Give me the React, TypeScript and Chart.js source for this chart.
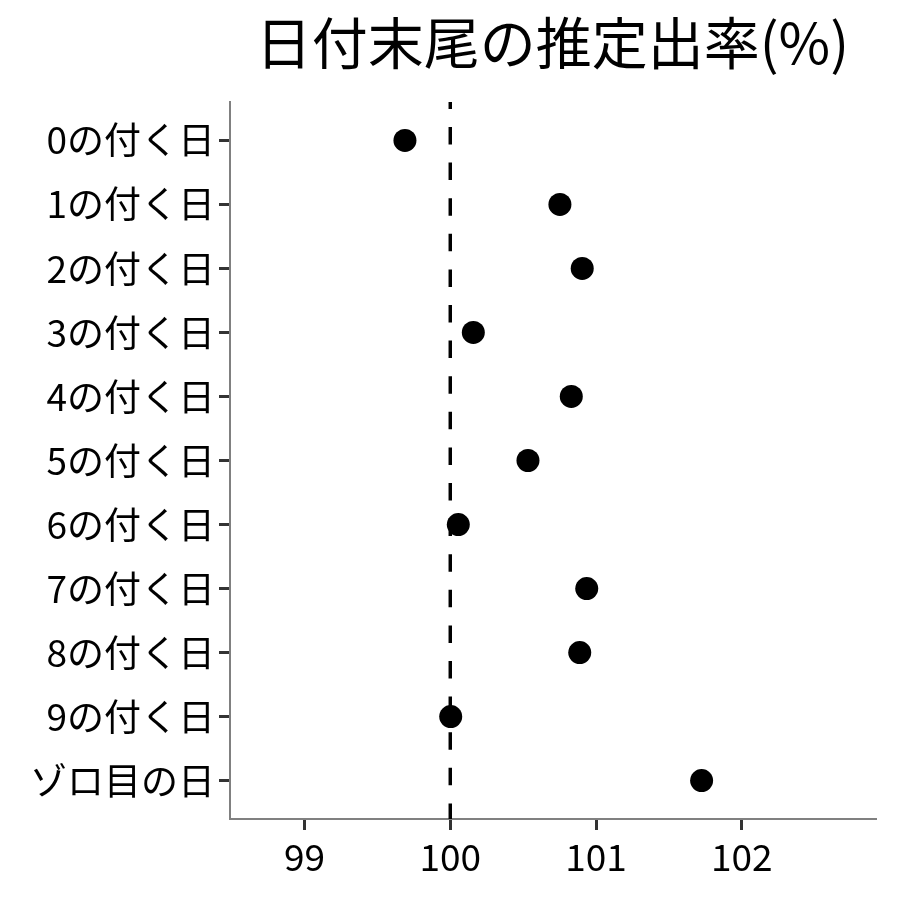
import React, { useEffect, useRef } from "react";
import { Chart, registerables } from "chart.js";

Chart.register(...registerables);

const titleText = "日付末尾の推定出率(%)";
const categories = [
  "0の付く日",
  "1の付く日",
  "2の付く日",
  "3の付く日",
  "4の付く日",
  "5の付く日",
  "6の付く日",
  "7の付く日",
  "8の付く日",
  "9の付く日",
  "ゾロ目の日",
];
const rates = [99.689, 100.752, 100.905, 100.158, 100.83, 100.533, 100.055, 100.936, 100.888, 100.003, 101.724];
const xTicks = [99, 100, 101, 102];
const xMin = 98.489;
const xMax = 102.925;
const referenceValue = 100;

const FONT = "'Noto Sans CJK JP', 'Noto Sans CJK SC', sans-serif";

export default function App() {
  const ref = useRef<HTMLCanvasElement | null>(null);

  useEffect(() => {
    if (!ref.current) return;
    const titlePlugin = {
      id: "centerTitle",
      afterDraw(chart: any) {
        const { ctx, chartArea } = chart;
        ctx.save();
        ctx.font = `56px ${FONT}`;
        ctx.fillStyle = "#000";
        ctx.textAlign = "center";
        ctx.textBaseline = "middle";
        ctx.fillText(titleText, (chartArea.left + chartArea.right) / 2 - 1, 43);
        ctx.restore();
      },
    };
    const chart = new Chart(ref.current, {
      type: "scatter",
      data: {
        datasets: [
          {
            data: rates.map((v, i) => ({ x: v, y: i })),
            backgroundColor: "#000",
            borderWidth: 0,
            pointRadius: 11.5,
            pointHoverRadius: 11.5,
          },
          {
            data: [
              { x: referenceValue, y: -0.6 },
              { x: referenceValue, y: categories.length - 1 + 0.6 },
            ],
            showLine: true,
            borderColor: "#000",
            borderWidth: 3.5,
            borderDash: [17.5, 18.1],
            borderDashOffset: 10.6,
            pointRadius: 0,
            pointHoverRadius: 0,
          } as any,
        ],
      },
      options: {
        animation: false,
        responsive: false,
        events: [],
        layout: { padding: { top: 102, right: 23.3, bottom: 0, left: 0 } },
        plugins: {
          legend: { display: false },
          tooltip: { enabled: false },
          title: { display: false },
        },
        scales: {
          x: {
            type: "linear",
            min: xMin,
            max: xMax,
            afterBuildTicks: (scale: any) => {
              scale.ticks = xTicks.map((v) => ({ value: v }));
            },
            afterFit: (scale: any) => {
              scale.height = 81;
            },
            ticks: {
              font: { family: FONT, size: 37 },
              color: "#000",
              padding: 5,
              maxRotation: 0,
              callback: (v: any) => String(v),
            },
            grid: {
              drawOnChartArea: false,
              drawTicks: true,
              tickLength: 11,
              tickWidth: 3,
              tickColor: "#333",
            },
            border: { display: true, color: "#808080", width: 2 },
          },
          y: {
            type: "linear",
            min: -0.6,
            max: categories.length - 1 + 0.6,
            reverse: true,
            afterBuildTicks: (scale: any) => {
              scale.ticks = categories.map((_, i) => ({ value: i }));
            },
            afterFit: (scale: any) => {
              scale.width = 230;
            },
            ticks: {
              font: { family: FONT, size: 37 },
              color: "#000",
              padding: 4,
              callback: (v: any) => categories[Math.round(Number(v))] ?? "",
            },
            grid: {
              drawOnChartArea: false,
              drawTicks: true,
              tickLength: 11,
              tickWidth: 3,
              tickColor: "#333",
            },
            border: { display: true, color: "#808080", width: 2 },
          },
        },
      },
      plugins: [titlePlugin],
    });
    return () => chart.destroy();
  }, []);

  return (
    <div style={{ position: "fixed", left: 0, top: 0, width: 900, height: 900, background: "#fff" }}>
      <canvas ref={ref} width={900} height={900} />
    </div>
  );
}
